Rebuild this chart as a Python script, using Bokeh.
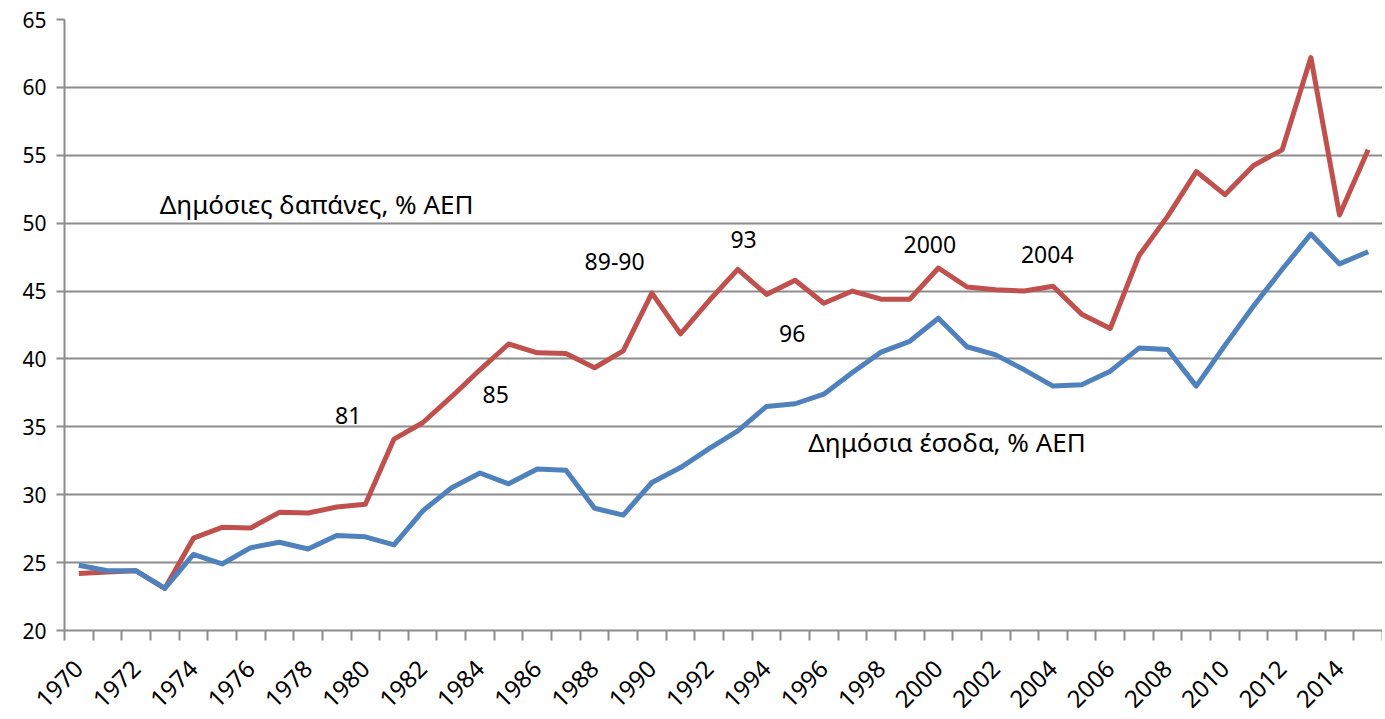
import math
from bokeh.plotting import figure
from bokeh.models import FixedTicker, Range1d, ColumnDataSource, Label
from bokeh.embed import file_html
from bokeh.resources import INLINE

years = list(range(1970, 2016))
revenue = [24.8, 24.4, 24.4, 23.1, 25.6, 24.9, 26.1, 26.5, 26.0, 27.0,
           26.9, 26.3, 28.8, 30.5, 31.6, 30.8, 31.9, 31.8, 29.0, 28.5,
           30.9, 32.0, 33.4, 34.7, 36.5, 36.7, 37.4, 39.0, 40.5, 41.3,
           43.0, 40.9, 40.3, 39.2, 38.0, 38.1, 39.1, 40.8, 40.7, 38.0,
           41.0, 43.9, 46.6, 49.2, 47.0, 47.9]
expenditure = [24.2, 24.3, 24.4, 23.1, 26.8, 27.6, 27.55, 28.7, 28.65, 29.1,
               29.3, 34.1, 35.3, 37.2, 39.2, 41.1, 40.45, 40.4, 39.35, 40.6,
               44.85, 41.85, 44.3, 46.6, 44.75, 45.8, 44.1, 45.0, 44.4, 44.4,
               46.7, 45.3, 45.1, 45.0, 45.35, 43.3, 42.25, 47.6, 50.5, 53.8,
               52.1, 54.25, 55.4, 62.2, 50.6, 55.4]
tick_years = list(range(1970, 2015, 2))
y_ticks = list(range(20, 70, 5))

annot_texts = ["Δημόσιες δαπάνες, % ΑΕΠ", "81", "85", "89-90", "93", "96",
               "2000", "2004", "Δημόσια έσοδα, % ΑΕΠ"]
annot_sizes = ["26px", "23px", "23px", "23px", "23px", "23px", "23px", "23px", "26px"]
annot_x = [1978.3, 1979.4, 1984.55, 1988.7, 1993.2, 1994.9, 1999.7, 2003.8, 2000.3]
annot_y = [51.4, 35.8, 37.4, 47.2, 48.8, 41.9, 48.4, 47.7, 33.9]

FONT = "Noto Sans"
GRID = "#8c8c8c"

p = figure(frame_width=1318, frame_height=611, output_backend="svg", toolbar_location=None,
           x_range=Range1d(1969.5, 2015.5), y_range=Range1d(20, 65),
           min_border_left=64, min_border_right=0, min_border_top=19,
           min_border_bottom=0)
p.outline_line_color = None
p.background_fill_color = "white"
p.border_fill_color = "white"

p.xgrid.grid_line_color = None
p.ygrid.grid_line_color = GRID
p.ygrid.grid_line_width = 2
p.ygrid.ticker = FixedTicker(ticks=y_ticks)

p.yaxis.ticker = FixedTicker(ticks=y_ticks)
p.yaxis.axis_line_color = GRID
p.yaxis.axis_line_width = 2
p.yaxis.major_tick_line_color = GRID
p.yaxis.major_tick_line_width = 2
p.yaxis.major_tick_out = 8
p.yaxis.major_tick_in = 0
p.yaxis.minor_tick_line_color = None
p.yaxis.major_label_text_font = FONT
p.yaxis.major_label_text_font_size = "21px"
p.yaxis.major_label_text_color = "black"
p.yaxis.major_label_standoff = 10

minor = [y - 0.5 for y in years] + [years[-1] + 0.5]
p.xaxis.ticker = FixedTicker(ticks=tick_years, minor_ticks=minor)
p.xaxis.axis_line_color = GRID
p.xaxis.axis_line_width = 2
p.xaxis.major_tick_line_color = None
p.xaxis.minor_tick_line_color = GRID
p.xaxis.minor_tick_line_width = 2
p.xaxis.minor_tick_out = 10
p.xaxis.minor_tick_in = 0
p.xaxis.major_label_orientation = math.pi / 4
p.xaxis.major_label_text_font = FONT
p.xaxis.major_label_text_font_size = "24px"
p.xaxis.major_label_text_color = "black"
p.xaxis.major_label_standoff = 24

src = ColumnDataSource(dict(year=years, rev=revenue, exp=expenditure))
p.line("year", "exp", source=src, line_color="#C0504D", line_width=5, line_join="round")
p.line("year", "rev", source=src, line_color="#4F81BD", line_width=5, line_join="round")

for t, x, y, s in zip(annot_texts, annot_x, annot_y, annot_sizes):
    p.add_layout(Label(x=x, y=y, text=t, text_font=FONT, text_font_size=s,
                       text_color="black", text_align="center", text_baseline="middle"))

open("out.html", "w").write(file_html(p, INLINE))
